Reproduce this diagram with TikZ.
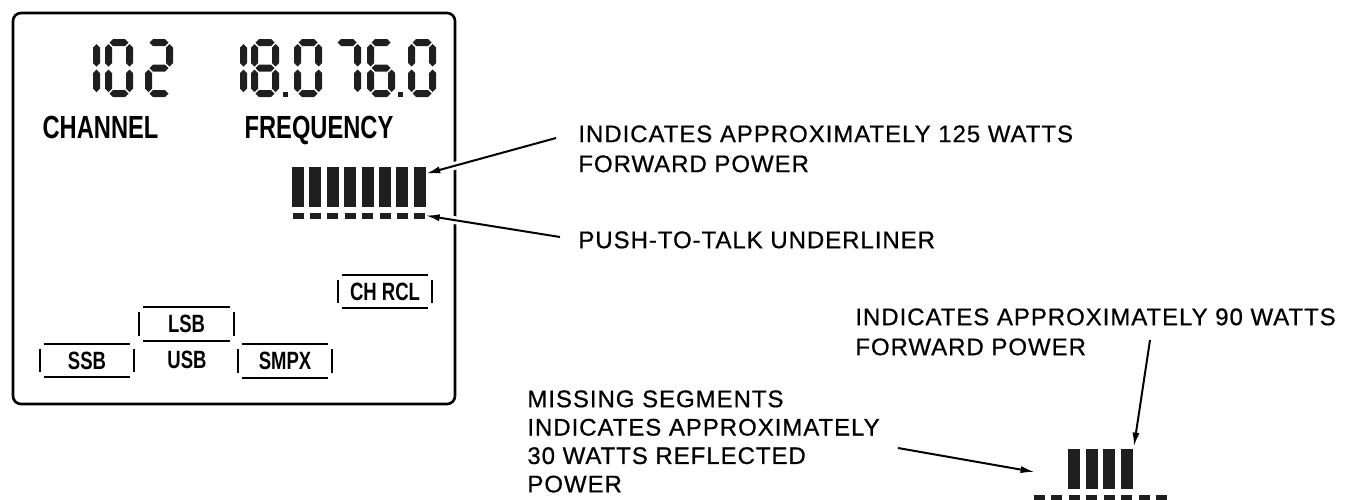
\documentclass[tikz,border=0pt]{standalone}
\usepackage{fontspec}
\setmainfont{Liberation Sans}
\newfontfamily\annfont[LetterSpace=4,FakeBold=0.7]{Liberation Sans}
\newfontfamily\lcdfont[FakeStretch=0.74]{Liberation Sans Bold}
\usetikzlibrary{arrows.meta}

\tikzstyle{lcdink} = [fill=black!88]
\tikzstyle{lcdframe} = [line width=1.3pt, rounded corners=4pt]
\tikzstyle{lcdlabel} = [font=\lcdfont\fontsize{16}{16}\selectfont, inner sep=0pt, anchor=base]
\tikzstyle{modetag} = [font=\lcdfont\fontsize{12.5}{12.5}\selectfont, inner sep=0pt,
   minimum width=47pt, minimum height=16.5pt]
\tikzstyle{tagline} = [line width=1pt]
\tikzstyle{segbar} = [fill=black!88, inner sep=0pt, minimum width=6pt, minimum height=20pt]
\tikzstyle{segdash} = [fill=black!88, inner sep=0pt, minimum width=5.5pt, minimum height=3pt]
\tikzstyle{note} = [font=\annfont\fontsize{12}{15}\selectfont, align=left,
   inner sep=0pt, anchor=north west]
\tikzstyle{pointer} = [line width=1pt, -{Latex[length=7pt,width=3.6pt]}]
\tikzstyle{crossing} = [pointer, preaction={draw, white, line width=4pt, -, shorten >=10pt}]

% seven segment pieces, local units, y down
\newcommand{\lcdsegA}{\fill[lcdink] (4.5,3.5) -- (8,0) -- (20,0) -- (23.5,3.5) -- (20,7) -- (8,7) -- cycle;}
\newcommand{\lcdsegG}{\fill[lcdink] (4.5,29) -- (8,25.5) -- (20,25.5) -- (23.5,29) -- (20,32.5) -- (8,32.5) -- cycle;}
\newcommand{\lcdsegD}{\fill[lcdink] (4.5,54.5) -- (8,51) -- (20,51) -- (23.5,54.5) -- (20,58) -- (8,58) -- cycle;}
\newcommand{\lcdsegF}{\fill[lcdink] (3.5,5) -- (7,8.5) -- (7,24) -- (3.5,27.5) -- (0,24) -- (0,8.5) -- cycle;}
\newcommand{\lcdsegE}{\fill[lcdink] (3.5,30.5) -- (7,34) -- (7,49.5) -- (3.5,53) -- (0,49.5) -- (0,34) -- cycle;}
\newcommand{\lcdsegB}{\fill[lcdink] (24.5,5) -- (28,8.5) -- (28,24) -- (24.5,27.5) -- (21,24) -- (21,8.5) -- cycle;}
\newcommand{\lcdsegC}{\fill[lcdink] (24.5,30.5) -- (28,34) -- (28,49.5) -- (24.5,53) -- (21,49.5) -- (21,34) -- cycle;}
\newcommand{\lcddigit}[3]{%
  \begin{scope}[shift={(#1,#2)}]
    \foreach \s in {#3} {\csname lcdseg\s\endcsname}
  \end{scope}}

\begin{document}
\begin{tikzpicture}[x=0.5pt, y=-0.5pt]
  \useasboundingbox (0,0) rectangle (1363,499);
  \clip (0,0) rectangle (1363,499);

  % display
  \draw[lcdframe] (13,13) rectangle (455,404);

  \lcddigit{72}{39}{B,C}
  \lcddigit{105}{39}{A,B,C,D,E,F}
  \lcddigit{145}{39}{A,B,G,E,D}

  \lcddigit{219}{39}{B,C}
  \lcddigit{251}{39}{A,B,C,D,E,F,G}
  \fill[lcdink] (283,92) rectangle (288,97);
  \lcddigit{294}{39}{A,B,C,D,E,F}
  \lcddigit{333}{39}{A,B,C}
  \lcddigit{367}{39}{A,F,G,E,D,C}
  \fill[lcdink] (398,92) rectangle (403,97);
  \lcddigit{408}{39}{A,B,C,D,E,F}

  \node[lcdlabel] (chanlbl) at (100.5,138) {CHANNEL};
  \node[lcdlabel] (freqlbl) at (319,138) {FREQUENCY};

  \node[modetag] (chrcl) at (385,291.5) {CH RCL};
  \node[modetag] (lsb) at (186.5,324) {LSB};
  \node[modetag] (ssb) at (87,360.5) {SSB};
  \node[modetag] (smpx) at (285,361) {SMPX};
  \node[modetag, minimum width=0pt, minimum height=0pt] (usb) at (187,360) {USB};

  \foreach \t in {chrcl,lsb,ssb,smpx} {
    \draw[tagline] ([xshift=2pt]\t.north west) -- ([xshift=-2pt]\t.north east);
    \draw[tagline] ([xshift=2pt]\t.south west) -- ([xshift=-2pt]\t.south east);
    \draw[tagline] ([yshift=-2.5pt]\t.north west) -- ([yshift=2.5pt]\t.south west);
    \draw[tagline] ([yshift=-2.5pt]\t.north east) -- ([yshift=2.5pt]\t.south east);
  }

  % bar graphs
  \foreach \i in {0,...,7} {
    \node[segbar] (bar\i) at (298+17.4*\i,187) {};
    \node[segdash] (dash\i) at (298+17.4*\i,215.5) {};
  }
  \foreach \i in {2,...,5}
    \node[segbar] (lbar\i) at (1039+17.5*\i,469) {};
  \foreach \i in {0,...,7}
    \node[segdash] (ldash\i) at (1039+17.5*\i,498) {};

  % notes
  \node[note] (fwd125) at (578,125) {INDICATES APPROXIMATELY 125 WATTS\\FORWARD POWER};
  \node[note] (ptt) at (578,231) {PUSH-TO-TALK UNDERLINER};
  \node[note] (fwd90) at (855,308) {INDICATES APPROXIMATELY 90 WATTS\\FORWARD POWER};
  \node[note, font=\annfont\fontsize{12}{14.2}\selectfont] (missing) at (527,390)
    {MISSING SEGMENTS\\INDICATES APPROXIMATELY\\30 WATTS REFLECTED\\POWER};

  % arrows
  \draw[crossing] ([xshift=-11pt,yshift=-6.5pt]fwd125.north west) -- ([yshift=-3.5pt]bar7.north east);
  \draw[crossing] ([xshift=-9pt,yshift=-3pt]ptt.north west) -- (dash7.east);
  \draw[pointer] ([xshift=147.5pt,yshift=-16pt]fwd90.north west) -- ([xshift=0.5pt,yshift=1pt]lbar5.north east);
  \draw[pointer] ([xshift=185.5pt,yshift=-29pt]missing.north west) -- ([xshift=-16.5pt,yshift=-1.5pt]lbar2.west);
\end{tikzpicture}
\end{document}
